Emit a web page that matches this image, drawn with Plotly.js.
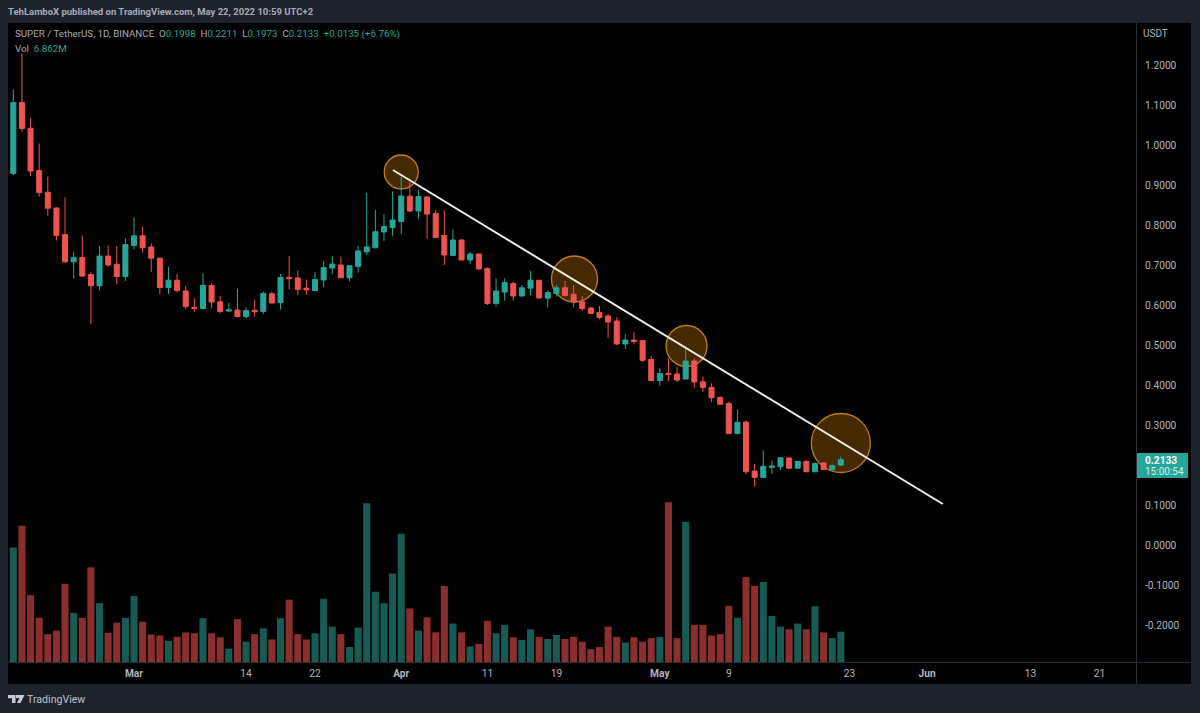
<!DOCTYPE html>
<html>
<head>
<meta charset="utf-8">
<script src="https://cdn.plot.ly/plotly-3.0.1.min.js"></script>
<style>html,body{margin:0;padding:0;background:#1e222d;overflow:hidden}</style>
</head>
<body>
<div id="chart" style="width:1200px;height:713px"></div>
<script>
const firstDate = '2022-02-15';
const opens = [0.929,1.106,1.042,0.936,0.882,0.8425,0.776,0.708,0.719,0.676,0.648,0.7225,0.702,0.671,0.749,0.773,0.745,0.717,0.644,0.662,0.635,0.594,0.591,0.649,0.608,0.585,0.5875,0.571,0.5867,0.584,0.628,0.606,0.669,0.6675,0.642,0.636,0.6625,0.6925,0.70,0.668,0.696,0.733,0.743,0.7825,0.794,0.809,0.872,0.835,0.87,0.829,0.774,0.724,0.7625,0.7125,0.7275,0.691,0.604,0.6325,0.654,0.6225,0.642,0.662,0.617,0.629,0.643,0.627,0.608,0.5925,0.581,0.5725,0.56,0.5025,0.5125,0.511,0.464,0.411,0.429,0.4275,0.415,0.46,0.408,0.394,0.369,0.354,0.279,0.3075,0.185,0.169,0.194,0.196,0.2175,0.192,0.209,0.183,0.205,0.188,0.1998];
const closes = [1.106,1.041,0.935,0.881,0.842,0.774,0.708,0.719,0.6725,0.648,0.7225,0.70,0.671,0.751,0.773,0.743,0.717,0.644,0.662,0.636,0.596,0.591,0.649,0.6075,0.584,0.5875,0.571,0.586,0.583,0.629,0.605,0.669,0.666,0.639,0.6375,0.664,0.694,0.7025,0.668,0.698,0.735,0.745,0.783,0.796,0.8125,0.8725,0.835,0.871,0.8275,0.769,0.725,0.7625,0.7125,0.7275,0.69,0.604,0.635,0.656,0.6225,0.643,0.662,0.6175,0.631,0.643,0.624,0.6075,0.591,0.579,0.569,0.5575,0.5025,0.5125,0.509,0.4617,0.411,0.429,0.426,0.4125,0.46,0.4075,0.394,0.368,0.352,0.279,0.3067,0.183,0.169,0.1967,0.1975,0.218,0.192,0.209,0.183,0.204,0.189,0.198,0.2133];
const highs = [1.139,1.229,1.067,1.004,0.921,0.844,0.869,0.733,0.774,0.682,0.7475,0.749,0.7475,0.767,0.819,0.796,0.754,0.718,0.696,0.6775,0.6475,0.617,0.679,0.654,0.6225,0.606,0.641,0.594,0.6125,0.634,0.633,0.6775,0.7225,0.686,0.664,0.683,0.71,0.7225,0.721,0.70,0.748,0.881,0.8375,0.827,0.884,0.921,0.908,0.8875,0.873,0.8375,0.8367,0.789,0.764,0.733,0.729,0.694,0.6667,0.6667,0.658,0.65,0.685,0.6625,0.6375,0.65,0.66,0.65,0.6225,0.596,0.5975,0.5775,0.569,0.527,0.532,0.5125,0.4725,0.4417,0.4667,0.446,0.49,0.4667,0.421,0.404,0.371,0.358,0.339,0.311,0.2025,0.2367,0.211,0.219,0.219,0.21,0.211,0.206,0.2067,0.2017,0.2211];
const lows = [0.925,1.033,0.923,0.871,0.823,0.761,0.706,0.666,0.671,0.5525,0.636,0.696,0.6525,0.66,0.739,0.731,0.683,0.6275,0.6275,0.631,0.589,0.583,0.590,0.5925,0.579,0.583,0.569,0.567,0.571,0.5775,0.604,0.589,0.639,0.625,0.625,0.635,0.644,0.6775,0.667,0.66,0.681,0.725,0.742,0.76,0.7725,0.7775,0.834,0.815,0.766,0.768,0.70,0.723,0.712,0.7025,0.689,0.60,0.596,0.611,0.611,0.622,0.624,0.617,0.594,0.621,0.621,0.594,0.585,0.578,0.564,0.518,0.50,0.49,0.5017,0.4575,0.41,0.398,0.41,0.4075,0.414,0.393,0.383,0.358,0.35,0.2775,0.276,0.177,0.146,0.168,0.1775,0.1875,0.19,0.191,0.1825,0.1825,0.1875,0.186,0.1973];
const volumesM = [25.9,30.8,15.1,10.0,6.3,7.1,17.7,11.1,10.0,21.4,13.3,6.6,8.9,10.0,14.9,9.1,6.2,6.0,4.8,5.7,6.7,6.5,9.9,6.5,5.6,3.0,9.7,4.6,6.3,7.6,5.1,9.9,14.1,6.3,5.1,6.5,14.3,8.0,6.3,3.4,7.8,35.9,15.9,13.3,20.0,29.0,12.1,7.1,10.1,6.7,17.2,8.7,6.7,3.5,4.1,9.3,6.5,8.4,5.6,5.0,7.4,5.7,5.2,6.1,5.2,5.7,4.6,2.9,3.4,8.0,5.7,4.4,5.6,4.6,5.4,5.7,36.1,5.4,31.7,8.4,8.4,6.0,6.3,12.7,10.0,19.2,17.2,18.1,10.4,8.0,7.4,8.7,7.4,12.6,6.7,5.4,6.862];

const priceTicks = [1.2,1.1,1.0,0.9,0.8,0.7,0.6,0.5,0.4,0.3,0.1,0.0,-0.1,-0.2];
const dateTicks = ['2022-03-01','2022-03-14','2022-03-22','2022-04-01','2022-04-11','2022-04-19','2022-05-01','2022-05-09','2022-05-23','2022-06-01','2022-06-13','2022-06-21'];
const dateTickLabels = ['<b>Mar</b>','14','22','<b>Apr</b>','11','19','<b>May</b>','9','23','<b>Jun</b>','13','21'];

const trendDates = ['2022-03-31 01:00','2022-06-02 20:00'];
const trendPrices = [0.9375,0.1025];
const circleDays = [31.0,51.1,64.1,82.0];      // days after Mar 1
const circlePrices = [0.9325,0.665,0.4975,0.255];
const circleRadiiPx = [17,23,20.5,29.5];

const C_UP='#26a69a', C_DOWN='#ef5350', C_VOL_UP='#165c54', C_VOL_DOWN='#8a2f2e';
const C_TEXT='#b2b5be', C_BG='#1e222d', C_LINE='#2a2e39';

// layout geometry
const PL=8, PR=1137, PT=23, PB=662;
const PX_PER_DAY=8.62, PX_PER_UNIT=400, MAR1_PX=134;
const W=PR-PL, H=PB-PT;
const fx=x=>(x-PL)/W, fy=y=>(PB-y)/H;
const dayMs=86400000, mar1=Date.UTC(2022,2,1);
const dateAt=d=>new Date(mar1+d*dayMs).toISOString().slice(0,19).replace('T',' ');
const xDays0=(PL-MAR1_PX)/PX_PER_DAY, xDays1=(PR-MAR1_PX)/PX_PER_DAY;

const start=Date.parse(firstDate+'T00:00:00Z');
const dates=opens.map((_,i)=>new Date(start+i*dayMs).toISOString().slice(0,10));
const volColors=opens.map((o,i)=>closes[i]>=o?C_VOL_UP:C_VOL_DOWN);

const candle={type:'candlestick',x:dates,open:opens,high:highs,low:lows,close:closes,
  increasing:{line:{color:C_UP,width:1},fillcolor:C_UP},
  decreasing:{line:{color:C_DOWN,width:1},fillcolor:C_DOWN},
  whiskerwidth:0,hoverinfo:'skip',showlegend:false,yaxis:'y'};
const volume={type:'bar',x:dates,y:volumesM,marker:{color:volColors,line:{width:0}},
  yaxis:'y2',hoverinfo:'skip',showlegend:false,width:0.82*dayMs};

const shapes=[
 {type:'rect',layer:'below',xref:'paper',yref:'paper',x0:fx(8),x1:fx(1191),y0:fy(684),y1:fy(23),fillcolor:'#000',line:{width:0}},
 {type:'line',layer:'below',xref:'paper',yref:'paper',x0:fx(8),x1:fx(1191),y0:fy(662.5),y1:fy(662.5),line:{color:C_LINE,width:1}},
 {type:'line',layer:'below',xref:'paper',yref:'paper',x0:fx(1136.5),x1:fx(1136.5),y0:fy(684),y1:fy(23),line:{color:C_LINE,width:1}}
];
circleDays.forEach((d,i)=>{
  const r=circleRadiiPx[i];
  shapes.push({type:'circle',layer:'below',xref:'x',yref:'y',
    x0:dateAt(d-r/PX_PER_DAY),x1:dateAt(d+r/PX_PER_DAY),
    y0:circlePrices[i]-r/PX_PER_UNIT,y1:circlePrices[i]+r/PX_PER_UNIT,
    fillcolor:'rgba(255,152,0,0.27)',line:{color:'rgba(220,145,30,0.85)',width:1.3}});
});
shapes.push({type:'line',xref:'x',yref:'y',x0:trendDates[0],x1:trendDates[1],y0:trendPrices[0],y1:trendPrices[1],
  line:{color:'#f4efe4',width:2}});
// price tag
shapes.push({type:'rect',xref:'paper',yref:'paper',x0:fx(1137),x1:fx(1188),y0:fy(478),y1:fy(453),fillcolor:C_UP,line:{width:0}});
// TradingView logo
const poly=pts=>'M '+pts.map(p=>fx(p[0])+' '+fy(p[1])).join(' L ')+' Z';
[[[8,695],[15.5,695],[15.5,703],[12,703],[12,698.2],[8,698.2]],
 [[16,695],[24.5,695],[20.5,703],[17,703],[19.5,698],[16,698]]].forEach(p=>{
  shapes.push({type:'path',xref:'paper',yref:'paper',path:poly(p),fillcolor:'#c8cad0',line:{width:0}});
});

const FONT='Roboto, Arial, sans-serif';
const note=(x,y,text,size,color,anchor,extra)=>Object.assign({xref:'paper',yref:'paper',x:fx(x),y:fy(y),text,showarrow:false,
  xanchor:anchor||'left',yanchor:'middle',align:anchor==='center'?'center':'left',font:{family:FONT,size:size||10,color:color||C_TEXT}},extra||{});
const val=s=>`<span style="color:${C_UP}">${s}</span>`;

const annotations=[
 note(6,12,'<b>TehLamboX published on TradingView.com, May 22, 2022 10:59 UTC+2</b>',9.5,'#a8abb4'),
 note(13,34,'SUPER / TetherUS, 1D, BINANCE&#160;&#160;O'+val('0.1998')+'&#160;&#160;H'+val('0.2211')+'&#160;&#160;L'+val('0.1973')+'&#160;&#160;C'+val('0.2133')+'&#160;&#160;'+val('+0.0135 (+6.76%)'),9.75,'#a8abb4'),
 note(13,48,'Vol&#160;&#160;'+val('6.862M'),9.75,'#a8abb4'),
 note(1141,33,'USDT',10,C_TEXT),
 note(1143,460,'<b>0.2133</b>',10.2,'#ffffff'),
 note(1143,471,'15:00:54',10,'#d5efec'),
 note(25,699,'TradingView',10.6,'#c0c3ca')
];

const layout={
  width:1200,height:713,autosize:false,
  margin:{l:PL,r:1200-PR,t:PT,b:713-PB,pad:0},
  paper_bgcolor:C_BG,plot_bgcolor:'rgba(0,0,0,0)',
  font:{family:FONT,color:C_TEXT,size:10.2},
  showlegend:false,dragmode:false,hovermode:false,
  boxgap:0.42,boxgroupgap:0,bargap:0.18,
  xaxis:{type:'date',range:[dateAt(xDays0),dateAt(xDays1)],rangeslider:{visible:false},
    tickmode:'array',tickvals:dateTicks,ticktext:dateTickLabels,
    showgrid:false,zeroline:false,showline:false,ticks:'outside',ticklen:2,tickcolor:'rgba(0,0,0,0)',
    tickangle:0,tickfont:{family:FONT,size:10.2,color:C_TEXT},automargin:false},
  yaxis:{side:'right',range:[(545-PB)/PX_PER_UNIT,(545-PT)/PX_PER_UNIT],
    tickmode:'array',tickvals:priceTicks,ticktext:priceTicks.map(v=>v.toFixed(4)),
    showgrid:false,zeroline:false,showline:false,ticks:'outside',ticklen:5,tickcolor:'rgba(0,0,0,0)',
    tickfont:{family:FONT,size:10.2,color:C_TEXT},automargin:false},
  yaxis2:{overlaying:'y',side:'left',range:[0,144.5],visible:false,fixedrange:true},
  shapes,annotations
};
Plotly.newPlot('chart',[volume,candle],layout,{displayModeBar:false,staticPlot:true});
</script>
</body>
</html>
